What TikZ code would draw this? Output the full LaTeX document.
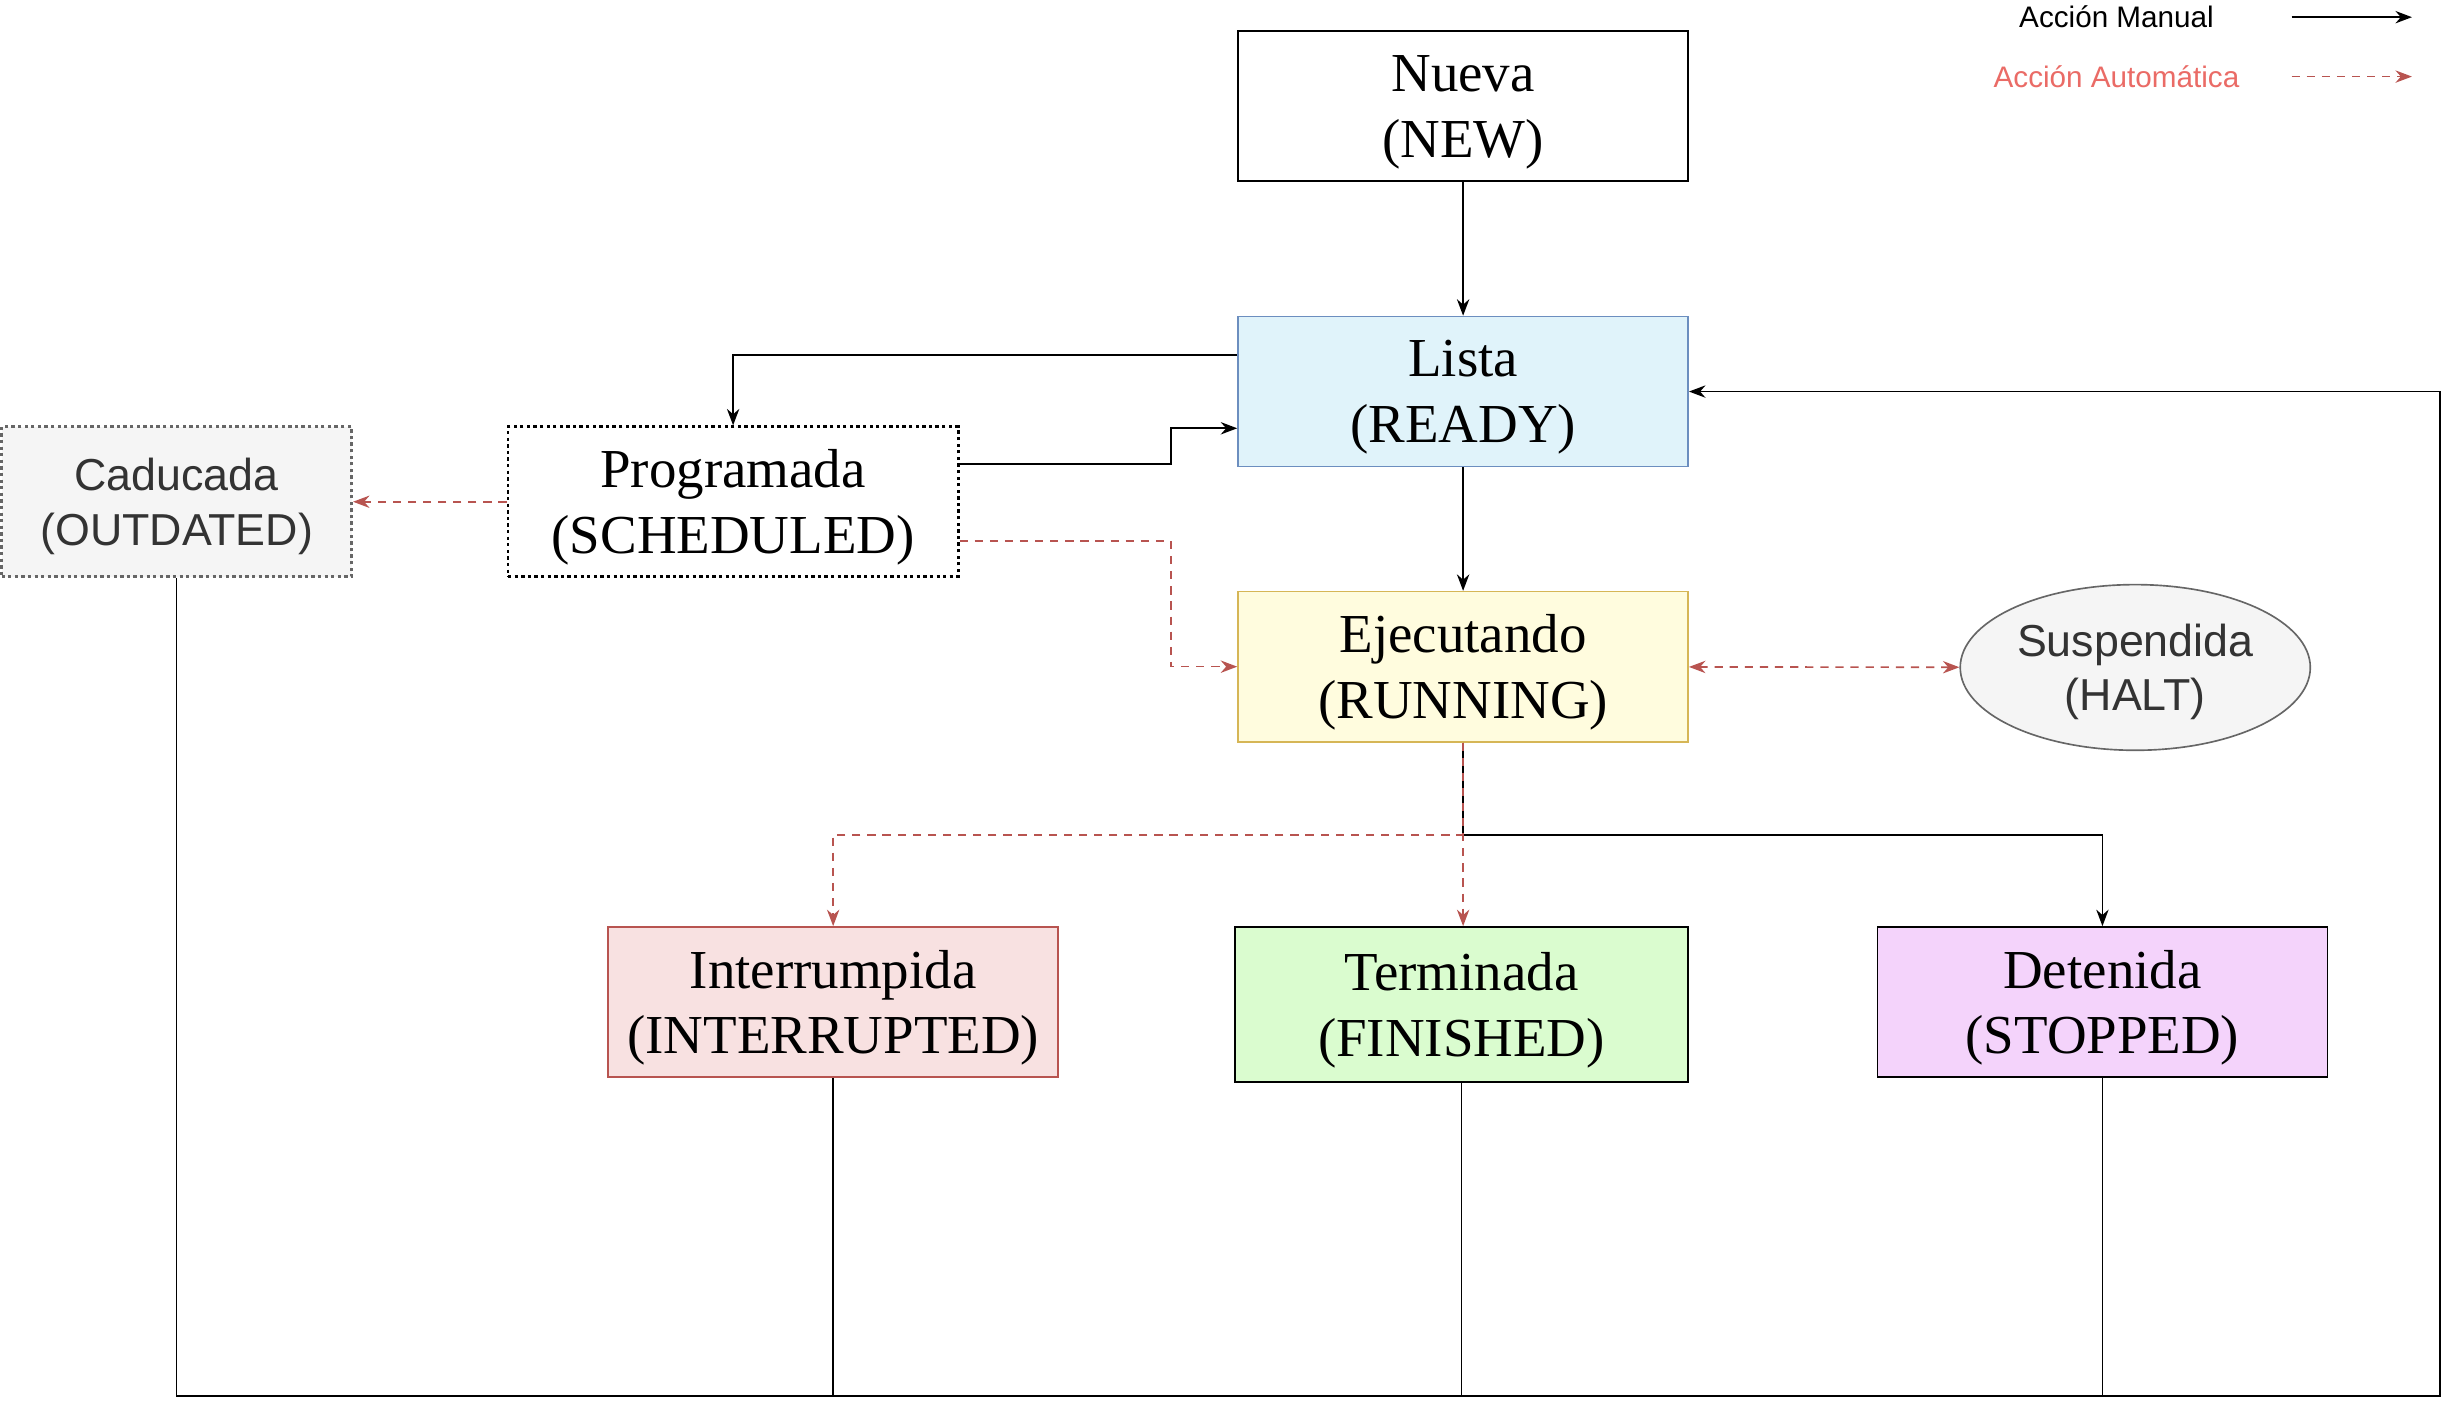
\documentclass[tikz,border=0pt]{standalone}
\usepackage{fontspec}
\setmainfont{Liberation Serif}
\setsansfont{Liberation Sans}
\usetikzlibrary{arrows.meta,shapes.geometric}
\definecolor{listafill}{HTML}{E0F3FA}
\definecolor{listaborde}{HTML}{6C8EBF}
\definecolor{ejecfill}{HTML}{FFFCDE}
\definecolor{ejecborde}{HTML}{D6B656}
\definecolor{interfill}{HTML}{F8E1E1}
\definecolor{rojo}{HTML}{B85450}
\definecolor{termfill}{HTML}{DAFCCF}
\definecolor{detenfill}{HTML}{F4D3FB}
\definecolor{grisfill}{HTML}{F5F5F5}
\definecolor{grisborde}{HTML}{666666}
\definecolor{gristexto}{HTML}{333333}
\definecolor{leyendarojo}{HTML}{EA6B66}
\begin{document}
\begin{tikzpicture}[x=0.02cm,y=-0.02cm,>={Stealth[length=6pt,width=4.5pt]},
  estado/.style={draw,line width=0.6pt,minimum width=5.76cm,minimum height=1.92cm,inner sep=0pt,align=center,text depth=0pt,font=\fontsize{20}{24}\selectfont},
  gris/.style={fill=grisfill,draw=grisborde,text=gristexto,font=\sffamily\fontsize{16.3}{19.8}\selectfont},
  punteado/.style={line width=1pt,dash pattern=on 1.2pt off 1.2pt},
  linea/.style={line width=0.6pt},
  manual/.style={linea,->},
  automatica/.style={line width=0.6pt,draw=rojo,dash pattern=on 3pt off 2.5pt,->},
  leyenda/.style={font=\sffamily\fontsize{10.8}{13}\selectfont}]
\useasboundingbox (0,0) rectangle (1568,901);

\node[estado] (nueva) at (936,68) {Nueva\\(NEW)};
\node[estado,fill=listafill,draw=listaborde] (lista) at (936,250.5) {Lista\\(READY)};
\node[estado,punteado] (prog) at (469,321) {Programada\\(SCHEDULED)};
\node[estado,gris,punteado,minimum width=4.48cm] (cad) at (113,321) {Caducada\\(OUTDATED)};
\node[estado,fill=ejecfill,draw=ejecborde] (ejec) at (936,426.5) {Ejecutando\\(RUNNING)};
\node[estado,gris,ellipse,minimum width=4.48cm,minimum height=2.12cm] (susp) at (1366,427) {Suspendida\\(HALT)};
\node[estado,fill=interfill,draw=rojo] (inter) at (533,641) {Interrumpida\\(INTERRUPTED)};
\node[estado,fill=termfill,minimum width=5.8cm,minimum height=1.98cm] (term) at (935,642.5) {Terminada\\(FINISHED)};
\node[estado,fill=detenfill] (deten) at (1345,641) {Detenida\\(STOPPED)};

\node[leyenda] (manual) at (1354,11) {Acción Manual};
\node[leyenda,text=leyendarojo] (auto) at (1354,49) {Acción Automática};
\coordinate (manA) at (1466,11);
\coordinate (manB) at (1543,11);
\coordinate (autoA) at (1466,49);
\coordinate (autoB) at (1543,49);
\draw[manual] (manA) -- (manB);
\draw[automatica] (autoA) -- (autoB);

\coordinate (codo1) at (749,297);
\coordinate (codo2) at (749,274);
\coordinate (codo3) at (469,227);
\coordinate (codo4) at (749,346);
\coordinate (ramif) at (936,534);
\coordinate (retorno) at (1561,893);

\draw[manual] (nueva) -- (lista);
\draw[manual] (lista.west |- codo3) -| (prog.north);
\draw[manual] (prog.east |- codo1) -- (codo1) -- (codo2) -- (lista.west |- codo2);
\draw[automatica] (prog) -- (cad);
\draw[automatica] (prog.east |- codo4) -- (codo4) |- (ejec.west);
\draw[manual] (lista) -- (ejec);
\draw[automatica,<->] (ejec) -- (susp);
\draw[automatica] (ejec.south) -- (ramif) -| (inter.north);
\draw[manual] (ejec.south) -- (ramif) -| (deten.north);
\draw[automatica] (ejec.south) -- (ejec.south |- term.north);

\draw[manual] (cad.south) |- (retorno) |- (lista.east);
\draw[linea] (inter.south) -- (inter.south |- retorno);
\draw[linea] (term.south) -- (term.south |- retorno);
\draw[linea] (deten.south) -- (deten.south |- retorno);
\end{tikzpicture}
\end{document}
